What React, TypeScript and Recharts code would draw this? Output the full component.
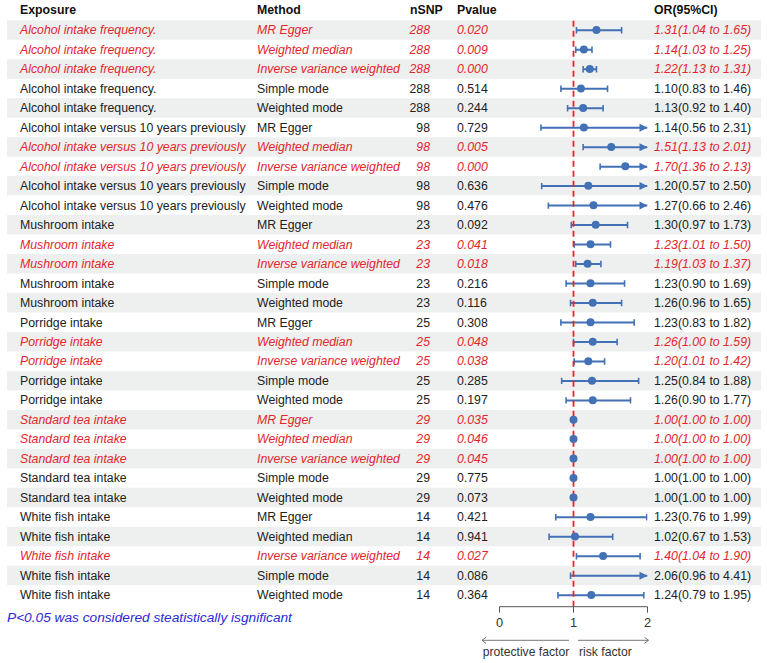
import React from 'react';
import {
  ComposedChart,
  Bar,
  Line,
  XAxis,
  YAxis,
  ReferenceLine,
  ReferenceArea,
  Label,
} from 'recharts';

// ---- data ----
const exposures = [
  'Alcohol intake frequency.',
  'Alcohol intake versus 10 years previously',
  'Mushroom intake',
  'Porridge intake',
  'Standard tea intake',
  'White fish intake',
];
const methods = ['MR Egger', 'Weighted median', 'Inverse variance weighted', 'Simple mode', 'Weighted mode'];
const snpCounts = [288, 98, 23, 25, 29, 14];

const pValues = [
  0.02, 0.009, 0.0, 0.514, 0.244,
  0.729, 0.005, 0.0, 0.636, 0.476,
  0.092, 0.041, 0.018, 0.216, 0.116,
  0.308, 0.048, 0.038, 0.285, 0.197,
  0.035, 0.046, 0.045, 0.775, 0.073,
  0.421, 0.941, 0.027, 0.086, 0.364,
];
const oddsRatios = [
  1.31, 1.14, 1.22, 1.1, 1.13,
  1.14, 1.51, 1.7, 1.2, 1.27,
  1.3, 1.23, 1.19, 1.23, 1.26,
  1.23, 1.26, 1.2, 1.25, 1.26,
  1.0, 1.0, 1.0, 1.0, 1.0,
  1.23, 1.02, 1.4, 2.06, 1.24,
];
const ciLower = [
  1.04, 1.03, 1.13, 0.83, 0.92,
  0.56, 1.13, 1.36, 0.57, 0.66,
  0.97, 1.01, 1.03, 0.9, 0.96,
  0.83, 1.0, 1.01, 0.84, 0.9,
  1.0, 1.0, 1.0, 1.0, 1.0,
  0.76, 0.67, 1.04, 0.96, 0.79,
];
const ciUpper = [
  1.65, 1.25, 1.31, 1.46, 1.4,
  2.31, 2.01, 2.13, 2.5, 2.46,
  1.73, 1.5, 1.37, 1.69, 1.65,
  1.82, 1.59, 1.42, 1.88, 1.77,
  1.0, 1.0, 1.0, 1.0, 1.0,
  1.99, 1.53, 1.9, 4.41, 1.95,
];
const axisTicks = [0, 1, 2];
const headers = ['Exposure', 'Method', 'nSNP', 'Pvalue', 'OR(95%CI)'];
const footnote = 'P<0.05 was considered steatistically isgnificant';
const directionLabels = ['protective factor', 'risk factor'];

const AXIS_MIN = 0;
const AXIS_MAX = 2;
const NULL_VALUE = 1;
const ALPHA = 0.05;

type Row = {
  id: string;
  exposure: string;
  method: string;
  nsnp: number;
  p: number;
  or: number;
  lo: number;
  hi: number;
  ci: [number, number];
  point: number | null;
  clipped: boolean;
  sig: boolean;
};

const rows: Row[] = oddsRatios.map((or, i) => {
  const g = Math.floor(i / methods.length);
  return {
    id: `r${i}`,
    exposure: exposures[g],
    method: methods[i % methods.length],
    nsnp: snpCounts[g],
    p: pValues[i],
    or,
    lo: ciLower[i],
    hi: ciUpper[i],
    ci: [ciLower[i], Math.min(ciUpper[i], AXIS_MAX)],
    point: or <= AXIS_MAX ? or : null,
    clipped: ciUpper[i] > AXIS_MAX,
    sig: pValues[i] < ALPHA,
  };
});
const rowById: Record<string, Row> = Object.fromEntries(rows.map((r) => [r.id, r]));

// ---- styling / layout ----
const FONT = '"Liberation Sans", Arial, Helvetica, sans-serif';
const RED = '#e3262d';
const INK = '#222222';
const BLUE = '#4271b6';
const NOTE_BLUE = '#2a2ad8';
const SHADE = '#eef0ef';
const AXIS_GREY = '#555555';
const TEXT_SIZE = 12.3;

const COL = { exposure: 20, method: 257, nsnpHead: 410, nsnpRight: 430, pvalue: 457, or: 654 };
// horizontal extent of the row stripes, in axis units
const STRIPE_FROM = -6.655;
const STRIPE_TO = 3.534;

const fmt2 = (v: number) => v.toFixed(2);

const RowTick = (props: any) => {
  const { y, payload } = props;
  const r = rowById[payload.value];
  if (!r) return null;
  const style: React.CSSProperties = r.sig ? { fontStyle: 'italic' } : {};
  const fill = r.sig ? RED : INK;
  const common = { y, dy: '0.35em', fill, style } as const;
  return (
    <g fontFamily={FONT} fontSize={TEXT_SIZE}>
      <text x={COL.exposure} {...common}>{r.exposure}</text>
      <text x={COL.method} {...common}>{r.method}</text>
      <text x={COL.nsnpRight} textAnchor="end" {...common}>{r.nsnp}</text>
      <text x={COL.pvalue} {...common}>{r.p.toFixed(3)}</text>
      <text x={COL.or} {...common}>{`${fmt2(r.or)}(${fmt2(r.lo)} to ${fmt2(r.hi)})`}</text>
    </g>
  );
};

const HeaderAndNote = (props: any) => {
  const vb = props.viewBox || {};
  const top = vb.y ?? 20;
  const bottom = (vb.y ?? 20) + (vb.height ?? 586);
  const hy = top - 10.8;
  return (
    <g fontFamily={FONT}>
      <g fontSize={TEXT_SIZE} fontWeight="bold" fill="#111">
        <text x={COL.exposure} y={hy} dy="0.35em">{headers[0]}</text>
        <text x={COL.method} y={hy} dy="0.35em">{headers[1]}</text>
        <text x={COL.nsnpHead} y={hy} dy="0.35em">{headers[2]}</text>
        <text x={COL.pvalue} y={hy} dy="0.35em">{headers[3]}</text>
        <text x={COL.or} y={hy} dy="0.35em">{headers[4]}</text>
      </g>
      <text x={7} y={bottom + 10.5} dy="0.35em" fontSize={13.7} fill={NOTE_BLUE} style={{ fontStyle: 'italic' }}>
        {footnote}
      </text>
    </g>
  );
};

const AxisTick = (props: any) => {
  const { x, y, payload } = props;
  const v = payload.value;
  const ay = y + 25.6;
  const ty = y + 37.3;
  return (
    <g fontFamily={FONT}>
      <text x={x} y={y + 8} dy="0.35em" textAnchor="middle" fontSize={12.8} fill="#333">{v}</text>
      {v === NULL_VALUE && (
        <g stroke="#777" strokeWidth={1} fill="none">
          <line x1={x - 91.5} x2={x - 4.5} y1={ay} y2={ay} />
          <polyline points={`${x - 87.5},${ay - 3} ${x - 91.5},${ay} ${x - 87.5},${ay + 3}`} />
          <line x1={x + 4.5} x2={x + 75} y1={ay} y2={ay} />
          <polyline points={`${x + 71},${ay - 3} ${x + 75},${ay} ${x + 71},${ay + 3}`} />
        </g>
      )}
      {v === NULL_VALUE && (
        <g fontSize={12.2} fill="#333" stroke="none">
          <text x={x - 47.5} y={ty} dy="0.35em" textAnchor="middle">{directionLabels[0]}</text>
          <text x={x + 5.5} y={ty} dy="0.35em" textAnchor="start">{directionLabels[1]}</text>
        </g>
      )}
    </g>
  );
};

// confidence interval whisker; an arrow marks an interval cut off at the axis end
const Whisker = (props: any) => {
  const { x, y, width, height, payload } = props;
  if (x == null || y == null) return null;
  const left = Math.min(x, x + width);
  const right = Math.max(x, x + width);
  const cy = y + height / 2;
  const cap = 3.2;
  return (
    <g>
      <line x1={left} x2={right} y1={cy} y2={cy} stroke={BLUE} strokeWidth={2} />
      <line x1={left} x2={left} y1={cy - cap} y2={cy + cap} stroke={BLUE} strokeWidth={1.6} />
      {payload && payload.clipped ? (
        <polygon points={`${right - 8},${cy - 4} ${right},${cy} ${right - 8},${cy + 4}`} fill={BLUE} />
      ) : (
        <line x1={right} x2={right} y1={cy - cap} y2={cy + cap} stroke={BLUE} strokeWidth={1.6} />
      )}
    </g>
  );
};

export default function App() {
  return (
    <div style={{ position: 'fixed', left: 0, top: 0, background: '#fff' }}>
      <ComposedChart
        width={767}
        height={663}
        data={rows}
        layout="vertical"
        margin={{ top: 20.26, right: 119.5, bottom: 0, left: 0 }}
      >
        {rows
          .filter((_, i) => i % 2 === 0)
          .map((r) => (
            <ReferenceArea
              key={`band-${r.id}`}
              y1={r.id}
              y2={r.id}
              x1={STRIPE_FROM}
              x2={STRIPE_TO}
              ifOverflow="visible"
              fill={SHADE}
              fillOpacity={1}
              stroke="none"
            />
          ))}
        <ReferenceLine x={NULL_VALUE} stroke={RED} strokeWidth={1.8} strokeDasharray="6 4" />
        <XAxis
          type="number"
          domain={[AXIS_MIN, AXIS_MAX]}
          ticks={axisTicks}
          allowDataOverflow
          height={56.3}
          tickSize={6}
          axisLine={{ stroke: AXIS_GREY }}
          tickLine={{ stroke: AXIS_GREY }}
          tick={<AxisTick />}
        />
        <YAxis
          type="category"
          dataKey="id"
          width={499.5}
          interval={0}
          axisLine={false}
          tickLine={false}
          padding={{ top: 0, bottom: 2 }}
          tick={<RowTick />}
          label={<Label content={<HeaderAndNote />} />}
        />
        <Bar dataKey="ci" barSize={8} shape={<Whisker />} isAnimationActive={false} />
        <Line
          dataKey="point"
          stroke="none"
          dot={{ r: 4, fill: BLUE, stroke: BLUE, strokeWidth: 0 }}
          activeDot={false}
          isAnimationActive={false}
        />
      </ComposedChart>
    </div>
  );
}
